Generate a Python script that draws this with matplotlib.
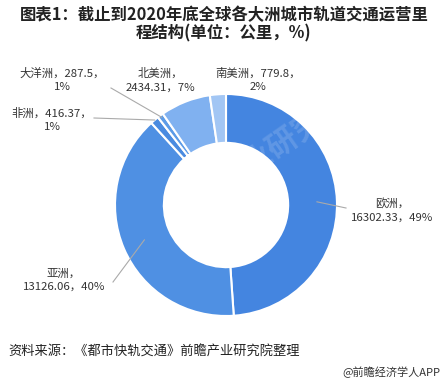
import numpy as np
import matplotlib
matplotlib.use("Agg")
import matplotlib.pyplot as plt

plt.rcParams['font.family'] = ['Noto Sans CJK SC', 'DejaVu Sans']

# data (km)
regions = ['欧洲', '亚洲', '非洲', '大洋洲', '北美洲', '南美洲']
lengths = [16302.33, 13126.06, 416.37, 287.5, 2434.31, 779.8]
value_txt = ['16302.33', '13126.06', '416.37', '287.5', '2434.31', '779.8']
pcts = ['49%', '40%', '1%', '1%', '7%', '2%']
colors = ['#4485e0', '#4f90e3', '#4a8be0', '#5c9be7', '#80b1f0', '#a2c6f4']

# label layout in pixel coords (x, y from top)
label_pos = {
    '欧洲': (392, 210, '{n}，\n{v}，{p}'),
    '亚洲': (64, 280, '{n}，\n{v}，{p}'),
    '非洲': (52, 120, '{n}，{v}，\n{p}'),
    '大洋洲': (62, 80, '{n}，{v}，\n{p}'),
    '北美洲': (160, 80, '{n}，\n{v}，{p}'),
    '南美洲': (258, 80, '{n}，{v}，\n{p}'),
}
leader = {'欧洲': (0.82, (346, 208)), '亚洲': (0.8, (113, 282)),
          '非洲': (1.0, (94, 118)), '大洋洲': (0.98, (111, 88))}

W, H = 448, 384
fig = plt.figure(figsize=(W / 100, H / 100), dpi=100)
ax = fig.add_axes([0, 0, 1, 1])

cx, cy, R = 226, H - 205, 111
wedges, _ = ax.pie(lengths, colors=colors, startangle=90, counterclock=False,
                   center=(cx, cy), radius=R, frame=True,
                   wedgeprops=dict(width=R * 0.44, edgecolor='white', linewidth=1.5))
ax.set_xlim(0, W)
ax.set_ylim(0, H)
ax.set_aspect('equal')
ax.axis('off')

# faint watermark
ax.text(258, H - 160, '前瞻产业研究院', fontsize=22, color='white', alpha=0.15,
        rotation=35, ha='center', va='center', fontweight='bold', zorder=5)

for w, name, val, p in zip(wedges, regions, value_txt, pcts):
    x, y, fmt = label_pos[name]
    txt = fmt.format(n=name, v=val, p=p)
    ax.text(x, H - y, txt, ha='center', va='center', fontsize=8.2,
            color='#333333', linespacing=1.45)
    if name in leader:
        rf, (lx, ly) = leader[name]
        ang = np.deg2rad((w.theta1 + w.theta2) / 2)
        px = cx + R * rf * np.cos(ang)
        py = cy + R * rf * np.sin(ang)
        ax.plot([lx, px], [H - ly, py], color='#aaaaaa', lw=0.8)

fig.text(0.5, 1 - 24 / H, '图表1：截止到2020年底全球各大洲城市轨道交通运营里\n程结构(单位：公里，%)',
         ha='center', va='center', fontsize=11.8, fontweight='bold',
         color='#222222', linespacing=1.0)
fig.text(8 / W, 1 - 352 / H, '资料来源：《都市快轨交通》前瞻产业研究院整理',
         ha='left', va='center', fontsize=9.5, color='#222222')
fig.text(440 / W, 1 - 372 / H, '@前瞻经济学人APP', ha='right', va='center',
         fontsize=8, color='#333333')

fig.savefig('out.png', dpi=100)
